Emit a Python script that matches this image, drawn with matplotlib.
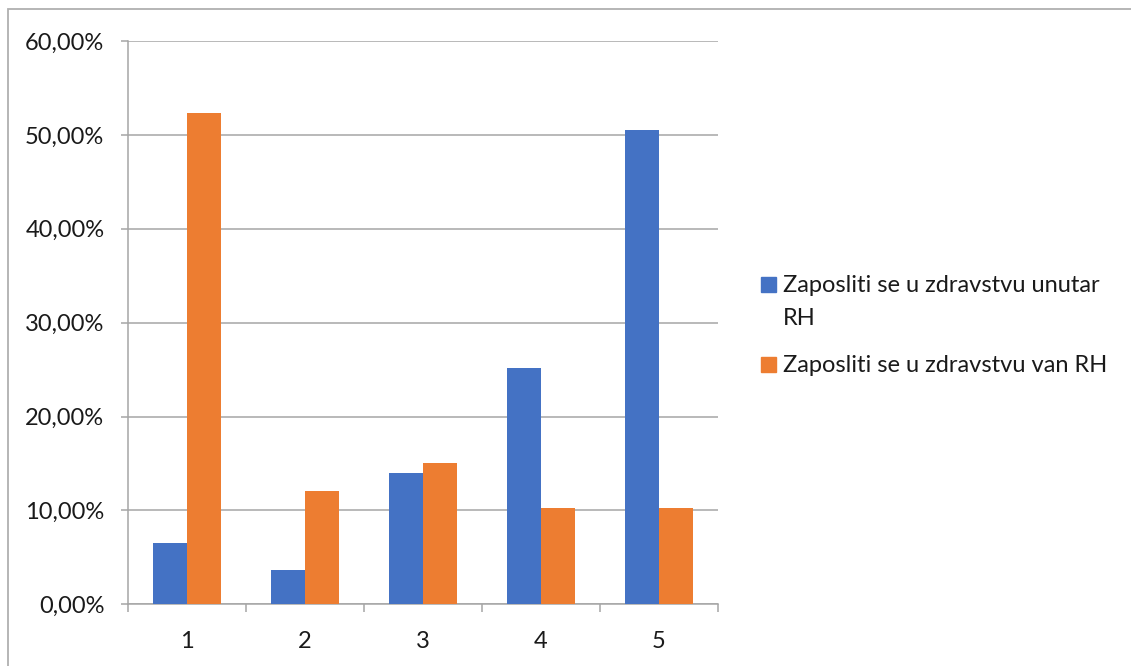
import matplotlib.pyplot as plt
from matplotlib.patches import Rectangle
from matplotlib.ticker import FuncFormatter
import numpy as np

# Data
categories = ['1', '2', '3', '4', '5']
unutar_rh = [6.5, 3.7, 14.0, 25.2, 50.5]
van_rh = [52.3, 12.1, 15.0, 10.3, 10.3]
series_names = ['Zaposliti se u zdravstvu unutar\nRH', 'Zaposliti se u zdravstvu van RH']
series_colors = ['#4472C4', '#ED7D31']
y_ticks = [0, 10, 20, 30, 40, 50, 60]

plt.rcParams['font.family'] = ['Lato', 'DejaVu Sans']
text_c = '#1a1a1a'
fs = 17

W, H = 1131, 666
fig = plt.figure(figsize=(W / 100, H / 100), dpi=100)
ax = fig.add_axes([128 / W, 1 - 604.3 / H, (718 - 128) / W, (604.3 - 41) / H])

x = np.arange(len(categories))
bw = 0.284
ax.bar(x - bw / 2, unutar_rh, bw, color=series_colors[0], zorder=3)
ax.bar(x + bw / 2, van_rh, bw, color=series_colors[1], zorder=3)

ax.set_xlim(-0.5, len(categories) - 0.5)
ax.set_ylim(0, 60)
ax.set_yticks(y_ticks)
ax.yaxis.set_major_formatter(FuncFormatter(lambda v, p: f'{v:.2f}%'.replace('.', ',')))
ax.set_xticks(x)
ax.set_xticklabels(categories)
ax.set_xticks(np.arange(len(categories) + 1) - 0.5, minor=True)

grid_c = '#a6a6a6'
ax.grid(axis='y', color=grid_c, linewidth=1.1, zorder=0)
for s in ['top', 'right']:
    ax.spines[s].set_visible(False)
for s in ['left', 'bottom']:
    ax.spines[s].set_color(grid_c)
    ax.spines[s].set_linewidth(1.1)

ax.tick_params(axis='y', length=5, width=1.1, color=grid_c, pad=12, labelsize=fs, labelcolor=text_c)
ax.tick_params(axis='x', which='major', length=0, pad=19, labelsize=fs, labelcolor=text_c)
ax.tick_params(axis='x', which='minor', length=6, width=1.1, color=grid_c)

# legend (square aligned with the first text line, like Excel)
sq_top = [277, 357]
line_step = 33
for name, col, top in zip(series_names, series_colors, sq_top):
    fig.add_artist(Rectangle((761 / W, 1 - (top + 15) / H), 15 / W, 15 / H,
                             transform=fig.transFigure, color=col))
    for i, line in enumerate(name.split('\n')):
        fig.text(783 / W, 1 - (top + 15 + i * line_step) / H, line, fontsize=fs,
                 color=text_c, va='baseline', ha='left')

# outer chart border
fig.add_artist(Rectangle((8 / W, -0.1), 1.2, 1 - 9 / H + 0.1, transform=fig.transFigure,
                         fill=False, edgecolor='#b0b0b0', linewidth=1.3))

plt.savefig('out.png', dpi=100)
plt.close()
